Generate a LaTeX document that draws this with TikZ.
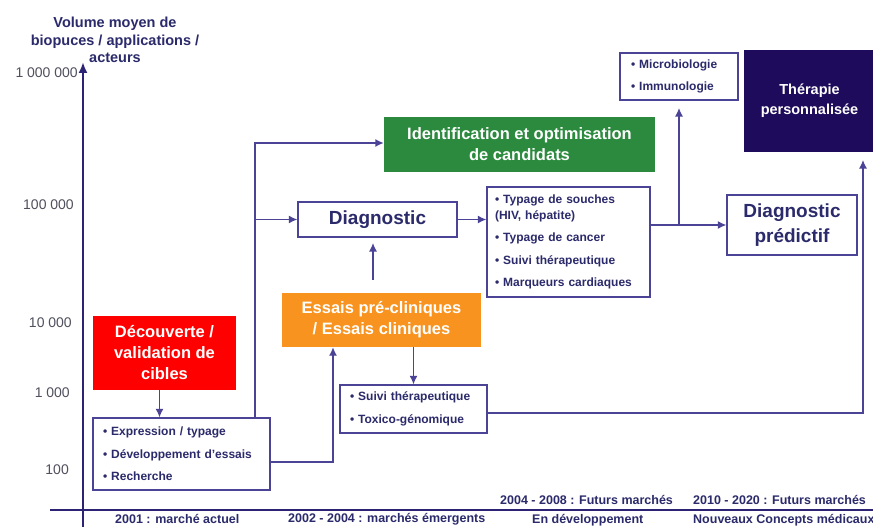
\documentclass[tikz,border=0pt]{standalone}
\usepackage{fontspec}
\setmainfont{Liberation Sans}
\usetikzlibrary{arrows.meta}
\definecolor{navy}{HTML}{2B2A6B}
\definecolor{linec}{HTML}{4B4395}
\definecolor{axisc}{HTML}{2C2375}
\definecolor{tickc}{HTML}{50505E}
\definecolor{redc}{HTML}{FF0000}
\definecolor{greenc}{HTML}{2B8A3E}
\definecolor{orangec}{HTML}{F7931E}
\definecolor{therc}{HTML}{1E0B5B}
\begin{document}
\begin{tikzpicture}[x=1pt,y=-1pt,
  conn/.style={draw=linec, line width=1.4pt, -{Latex[length=8.5pt,width=8pt]}},
  plainline/.style={draw=linec, line width=1.4pt},
  axisline/.style={draw=axisc, line width=2.2pt},
  colbox/.style={inner sep=0pt, text=white, align=center, font=\bfseries\fontsize{16.5}{21}\selectfont},
  whitebox/.style={draw=linec, line width=1.3pt, fill=white, inner sep=0pt, text=navy, align=center, font=\bfseries\fontsize{19}{25}\selectfont},
  listbox/.style={draw=linec, line width=1.3pt, fill=white, inner ysep=0pt, text=navy, align=left, font=\bfseries\fontsize{12}{22.5}\selectfont},
  ticklab/.style={anchor=east, text=tickc, font=\fontsize{14}{16}\selectfont, inner sep=0pt},
  bottomlab/.style={text=navy, font=\bfseries\fontsize{12.5}{15}\selectfont, inner sep=0pt}
]
\useasboundingbox (0,0) rectangle (873,527);
\clip (0,0) rectangle (873,527);
\fill[white] (0,0) rectangle (873,527);

% axes
\coordinate (ybot) at (83,527);
\coordinate (ytop) at (83,62);
\coordinate (xleft) at (50,510);
\coordinate (xright) at (875,510);
\draw[axisline] (xleft) -- (xright);
\draw[axisline, -{Latex[length=11pt,width=9pt]}] (ybot) -- (ytop);

% axis title
\node[text=navy, align=center, font=\bfseries\fontsize{14.5}{17.5}\selectfont, inner sep=0pt] (ytitle) at (115,40) {Volume moyen de\\biopuces / applications /\\acteurs};

% tick labels
\node[ticklab] (t6) at (78,73) {1 000 000};
\node[ticklab] (t5) at (74,205) {100 000};
\node[ticklab] (t4) at (72,323) {10 000};
\node[ticklab] (t3) at (70,393) {1 000};
\node[ticklab] (t2) at (69,470) {100};

% boxes
\node[colbox, fill=redc, minimum width=143pt, minimum height=74pt] (decouv) at (164.5,353) {Découverte /\\validation de\\cibles};
\node[listbox, text width=157pt, inner xsep=10pt, minimum height=72pt] (list1) at (181.5,454) {• Expression / typage\\• Développement d'essais\\• Recherche};
\node[colbox, fill=greenc, minimum width=271pt, minimum height=55pt] (green) at (519.5,144.5) {Identification et optimisation\\de candidats};
\node[whitebox, minimum width=159pt, minimum height=35pt] (diag) at (377.5,219.5) {Diagnostic};
\node[colbox, fill=orangec, minimum width=199pt, minimum height=54pt] (orange) at (381.5,320) {Essais pré-cliniques\\/ Essais cliniques};
\node[listbox, text width=127pt, inner xsep=10pt, minimum height=48pt] (list3) at (413.5,409) {• Suivi thérapeutique\\• Toxico-génomique};
\node[listbox, text width=147pt, inner xsep=8pt, minimum height=110pt] (list2) at (568.5,242) {• Typage de souches\\[-6.5pt](HIV, hépatite)\\• Typage de cancer\\• Suivi thérapeutique\\• Marqueurs cardiaques};
\node[listbox, text width=96pt, inner xsep=11pt, minimum height=47pt] (micro) at (679,76.5) {• Microbiologie\\• Immunologie};
\node[colbox, fill=therc, minimum width=131pt, minimum height=102pt, font=\bfseries\fontsize{14.5}{20}\selectfont] (therap) at (809.5,101) {Thérapie\\personnalisée};
\node[whitebox, minimum width=130pt, minimum height=60pt] (diagpred) at (792,225) {Diagnostic\\prédictif};

% connectors
\draw[conn] ([xshift=-5pt]decouv.south) -- ([xshift=-5pt]decouv.south |- list1.north);
\coordinate (j1) at (255,143);
\draw[conn] (list1.north -| j1) -- (j1) -- (j1 -| green.west);
\draw[conn] (diag.west -| j1) -- (diag.west);
\draw[conn] (diag.east) -- (diag.east -| list2.west);
\coordinate (j2a) at (373,280);
\coordinate (j2b) at (373,243);
\draw[conn] (j2a) -- (j2b);
\coordinate (j3) at (333,462);
\draw[conn] (j3 -| list1.east) -- (j3) -- (j3 |- orange.south);
\draw[conn] (orange.south -| list3.north) -- (list3.north);
\coordinate (j4) at (863,413);
\coordinate (j4top) at (863,160);
\draw[conn] (j4 -| list3.east) -- (j4) -- (j4top);
\draw[conn] (list2.east |- diagpred.west) -- (diagpred.west);
\coordinate (j5) at (679,108);
\draw[conn] (diagpred.west -| j5) -- (j5);

% bottom labels
\node[bottomlab, anchor=west] (b1) at (500,500) {2004 - 2008 : Futurs marchés};
\node[bottomlab, anchor=west] (b2) at (693,500) {2010 - 2020 : Futurs marchés};
\node[bottomlab, anchor=west] (b3) at (115,519) {2001 : marché actuel};
\node[bottomlab, anchor=west] (b4) at (288,519) {2002 - 2004 : marchés émergents};
\node[bottomlab, anchor=west] (b5) at (532,520) {En développement};
\node[bottomlab, anchor=west] (b6) at (693,520) {Nouveaux Concepts médicaux};
\end{tikzpicture}
\end{document}
